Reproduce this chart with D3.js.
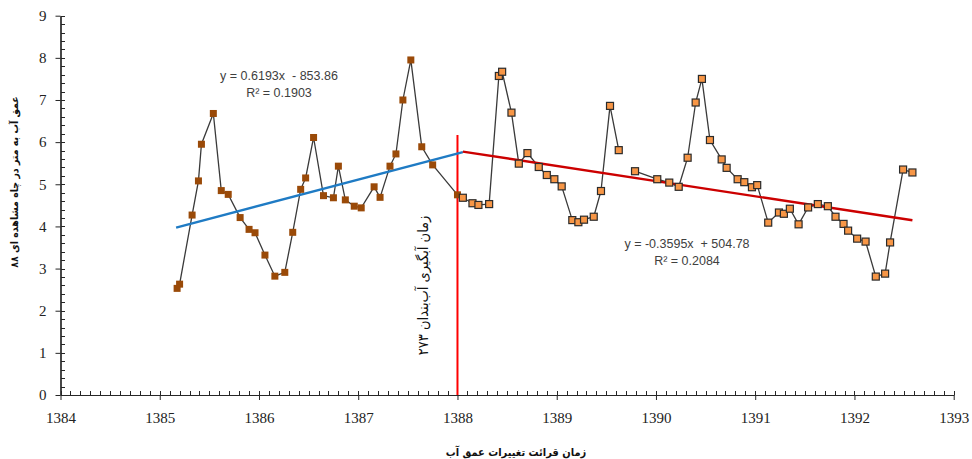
<!DOCTYPE html>
<html>
<head>
<meta charset="utf-8">
<script src="https://cdn.jsdelivr.net/npm/d3@7/dist/d3.min.js"></script>
<style>
  html, body { margin: 0; padding: 0; background: #fff; }
  svg { display: block; }
</style>
</head>
<body>
<svg id="chart" width="972" height="459"></svg>
<script>
// Water depth readings before the reservoir filling (year as decimal)
const beforeYears = [1385.175, 1385.20, 1385.326, 1385.39, 1385.42, 1385.54, 1385.62, 1385.69, 1385.81, 1385.90,
  1385.96, 1386.06, 1386.16, 1386.26, 1386.34, 1386.42, 1386.47, 1386.55, 1386.65, 1386.75,
  1386.80, 1386.87, 1386.96, 1387.03, 1387.16, 1387.22, 1387.32, 1387.38, 1387.45, 1387.53,
  1387.64, 1387.75, 1388.0];
const beforeDepth = [2.53, 2.63, 4.27, 5.08, 5.95, 6.68, 4.85, 4.76, 4.21, 3.93,
  3.85, 3.32, 2.82, 2.91, 3.86, 4.88, 5.15, 6.11, 4.73, 4.68,
  5.43, 4.63, 4.48, 4.44, 4.94, 4.69, 5.43, 5.72, 7.0, 7.95,
  5.89, 5.46, 4.75];

// Readings after the filling; null marks a missing reading (break in the line)
const afterYears = [1388.054, 1388.151, 1388.211, 1388.319, 1388.417, 1388.45, 1388.544, 1388.618, 1388.705, 1388.819,
  1388.90, 1388.976, 1389.05, 1389.157, 1389.218, 1389.275, 1389.373, 1389.446, 1389.537, 1389.625,
  null,
  1389.789, 1390.013, 1390.134, 1390.229, 1390.319, 1390.40, 1390.463, 1390.544, 1390.662, 1390.712,
  1390.823, 1390.89, 1390.967, 1391.02, 1391.131, 1391.239, 1391.289, 1391.349, 1391.437, 1391.533,
  1391.631, 1391.732, 1391.809, 1391.89, 1391.936, 1392.027, 1392.112, 1392.215, 1392.309, 1392.359,
  1392.49, 1392.584];
const afterDepth = [4.68, 4.55, 4.51, 4.53, 7.57, 7.67, 6.70, 5.49, 5.74, 5.41,
  5.22, 5.12, 4.95, 4.15, 4.10, 4.16, 4.23, 4.84, 6.86, 5.81,
  null,
  5.31, 5.12, 5.04, 4.94, 5.63, 6.94, 7.50, 6.05, 5.59, 5.39,
  5.12, 5.05, 4.93, 4.98, 4.09, 4.33, 4.30, 4.42, 4.05, 4.45,
  4.53, 4.48, 4.23, 4.06, 3.90, 3.71, 3.64, 2.81, 2.88, 3.62,
  5.35, 5.28];

// Linear trend lines: slope, intercept and the year span each one covers
const trendSlopes = [0.6193, -0.3595];
const trendIntercepts = [-853.86, 504.78];
const trendStarts = [1385.165, 1388.054];
const trendEnds = [1388.054, 1392.584];
const trendLabels = [["y = 0.6193x  - 853.86", "R² = 0.1903"], ["y = -0.3595x  + 504.78", "R² = 0.2084"]];

// Axis ticks
const yearTicks = [1384, 1385, 1386, 1387, 1388, 1389, 1390, 1391, 1392, 1393];
const depthTicks = [0, 1, 2, 3, 4, 5, 6, 7, 8, 9];

// Filling event marker
const eventYear = 1388;
const eventTop = 6.17;
const eventLabel = "زمان آبگیری آب‌بندان ۲۷۳";

const xTitle = "زمان قرائت تغییرات عمق آب";
const yTitle = "عمق آب به متر در چاه مشاهده ای ۸۸";

const svg = d3.select("#chart");
const x = d3.scaleLinear().domain([1384, 1393]).range([60.5, 953.7]);
const y = d3.scaleLinear().domain([0, 9]).range([395, 15.7]);

const tickFont = "'Liberation Serif', 'Times New Roman', serif";
const farsiFont = "'DejaVu Sans Condensed', 'DejaVu Sans', sans-serif";

// Minor ticks point into the plot
const minorX = d3.range(1384, 1393.001, 0.1);
const minorY = d3.range(0, 9.001, 0.2);

const gxMinor = svg.append("g").attr("transform", `translate(0,${y(0)})`)
  .call(d3.axisTop(x).tickValues(minorX).tickSizeInner(4).tickSizeOuter(0).tickFormat(""));
const gyMinor = svg.append("g").attr("transform", `translate(${x(1384)},0)`)
  .call(d3.axisRight(y).tickValues(minorY).tickSizeInner(4).tickSizeOuter(0).tickFormat(""));

// Major ticks with labels
const gx = svg.append("g").attr("transform", `translate(0,${y(0)})`)
  .call(d3.axisBottom(x).tickValues(yearTicks).tickSizeInner(5).tickSizeOuter(0).tickPadding(12).tickFormat(d3.format("d")));
const gy = svg.append("g").attr("transform", `translate(${x(1384)},0)`)
  .call(d3.axisLeft(y).tickValues(depthTicks).tickSizeInner(5).tickSizeOuter(0).tickPadding(9).tickFormat(d3.format("d")));

[gxMinor, gyMinor, gx, gy].forEach(g => {
  g.selectAll("path.domain").attr("stroke", "#262626").attr("stroke-width", 1.2);
  g.selectAll(".tick line").attr("stroke", "#262626").attr("stroke-width", 1);
});
[gx, gy].forEach(g => {
  g.selectAll(".tick text").attr("font-family", tickFont).attr("font-size", 15).attr("fill", "#222");
});
gxMinor.selectAll(".tick line").attr("shape-rendering", "crispEdges");
gyMinor.selectAll(".tick line").attr("shape-rendering", "crispEdges");

// Event marker line
svg.append("line")
  .attr("x1", x(eventYear)).attr("x2", x(eventYear))
  .attr("y1", y(0)).attr("y2", y(eventTop))
  .attr("stroke", "#ff0000").attr("stroke-width", 2);

svg.append("text")
  .attr("transform", `translate(${x(eventYear) - 29},${y(2.6)}) rotate(-90)`)
  .attr("text-anchor", "middle")
  .attr("font-family", farsiFont)
  .attr("font-size", 14.5)
  .attr("fill", "#111")
  .text(eventLabel);

// Series data
const beforePts = beforeYears.map((yr, i) => ({ x: yr, y: beforeDepth[i] }));
const afterPts = afterYears.map((yr, i) => ({ x: yr, y: afterDepth[i] }));

const line = d3.line()
  .defined(d => d.x != null && d.y != null)
  .x(d => x(d.x)).y(d => y(d.y));

svg.append("path").datum(beforePts)
  .attr("d", line).attr("fill", "none").attr("stroke", "#3a3a3a").attr("stroke-width", 1.3);
svg.append("path").datum(afterPts)
  .attr("d", line).attr("fill", "none").attr("stroke", "#3a3a3a").attr("stroke-width", 1.3);

// Trend lines
const trendColors = ["#1f7bc4", "#cc0000"];
trendSlopes.forEach((m, i) => {
  const b = trendIntercepts[i];
  const x0 = trendStarts[i], x1 = trendEnds[i];
  svg.append("line")
    .attr("x1", x(x0)).attr("y1", y(m * x0 + b))
    .attr("x2", x(x1)).attr("y2", y(m * x1 + b))
    .attr("stroke", trendColors[i]).attr("stroke-width", 2.4);
});

// Markers
const msz = 7;
svg.append("g").selectAll("rect").data(beforePts).join("rect")
  .attr("x", d => x(d.x) - msz / 2).attr("y", d => y(d.y) - msz / 2)
  .attr("width", msz).attr("height", msz)
  .attr("fill", "#9a4a08");
svg.append("g").selectAll("rect").data(afterPts.filter(d => d.x != null)).join("rect")
  .attr("x", d => x(d.x) - msz / 2).attr("y", d => y(d.y) - msz / 2)
  .attr("width", msz).attr("height", msz)
  .attr("fill", "#f79646").attr("stroke", "#2b2b2b").attr("stroke-width", 1.2);

// Trend equations
const eqPos = [[279, 75], [687, 243]];
trendLabels.forEach((lines, i) => {
  const t = svg.append("text")
    .attr("font-family", "'Liberation Sans', Arial, sans-serif")
    .attr("font-size", 12.5)
    .attr("fill", "#404040")
    .attr("text-anchor", "middle")
    .attr("xml:space", "preserve");
  lines.forEach((s, k) => {
    t.append("tspan").attr("x", eqPos[i][0]).attr("y", eqPos[i][1] + 4.5 + k * 17).text(s);
  });
});

// Axis titles
svg.append("text")
  .attr("x", 516).attr("y", 456)
  .attr("text-anchor", "middle")
  .attr("font-family", farsiFont)
  .attr("font-weight", "bold")
  .attr("font-size", 11)
  .attr("fill", "#111")
  .text(xTitle);

svg.append("text")
  .attr("transform", "translate(18,182) rotate(-90)")
  .attr("text-anchor", "middle")
  .attr("font-family", farsiFont)
  .attr("font-weight", "bold")
  .attr("font-size", 10.5)
  .attr("fill", "#111")
  .text(yTitle);
</script>
</body>
</html>
